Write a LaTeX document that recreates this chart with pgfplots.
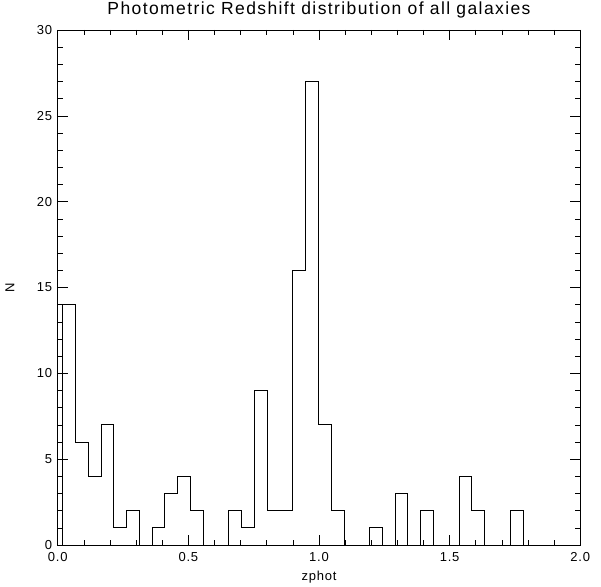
\documentclass[border=0pt]{standalone}
\usepackage{pgfplots}
\pgfplotsset{compat=1.18}
\usepackage{fontspec}
\setmainfont{Liberation Sans}
\newfontfamily\titlefont[LetterSpace=8]{Liberation Sans}
\newfontfamily\labelfont[LetterSpace=6]{Liberation Sans}
\begin{document}
\begin{tikzpicture}
\useasboundingbox (-57.7pt,-41pt) rectangle (543.3pt,545pt);
\begin{axis}[
  at={(0pt,0pt)}, anchor=south west,
  scale only axis,
  width=522.6pt, height=515pt,
  xmin=0, xmax=2, ymin=0, ymax=30,
  xtick={0,0.5,1,1.5,2},
  xticklabels={0.0,0.5,1.0,1.5,2.0},
  ytick={0,5,10,15,20,25,30},
  minor x tick num=4,
  minor y tick num=4,
  tick align=inside,
  major tick length=10pt,
  minor tick length=5pt,
  every tick/.style={black, line width=0.6pt},
  axis line style={black, line width=0.8pt},
  /pgf/number format/assume math mode=true,
  tick label style={font=\labelfont\fontsize{13}{15}\selectfont},
  xticklabel style={anchor=base, yshift=-16pt},
  yticklabel style={anchor=east, xshift=-2pt},
  title={Photometric Redshift distribution of all galaxies},
  title style={at={(0.5,1)}, anchor=base, yshift=9pt, font=\titlefont\fontsize{17.5}{20}\selectfont},
  xlabel={zphot},
  xlabel style={at={(axis description cs:0.5,0)}, anchor=base, yshift=-35pt, font=\labelfont\fontsize{13}{15}\selectfont},
  ylabel={N},
  ylabel style={at={(axis description cs:-0.0913,0.5)}, anchor=center, rotate=0, font=\labelfont\fontsize{13}{15}\selectfont},
  clip=false,
]
\addplot[const plot, black, line width=1pt] coordinates {
(0.0190,0)
(0.0190,14) (0.0679,6) (0.1169,4) (0.1658,7) (0.2148,1) (0.2637,2)
(0.3126,0) (0.3616,1) (0.4105,3) (0.4595,4) (0.5084,2) (0.5573,0)
(0.6063,0) (0.6552,2) (0.7042,1) (0.7531,9) (0.8020,2) (0.8510,2)
(0.8999,16) (0.9489,27) (0.9978,7) (1.0467,2) (1.0957,0) (1.1446,0)
(1.1936,1) (1.2425,0) (1.2914,3) (1.3404,0) (1.3893,2) (1.4383,0)
(1.4872,0) (1.5361,4) (1.5851,2) (1.6340,0) (1.6830,0) (1.7319,2)
(1.7808,0)
};
\end{axis}
\end{tikzpicture}
\end{document}
